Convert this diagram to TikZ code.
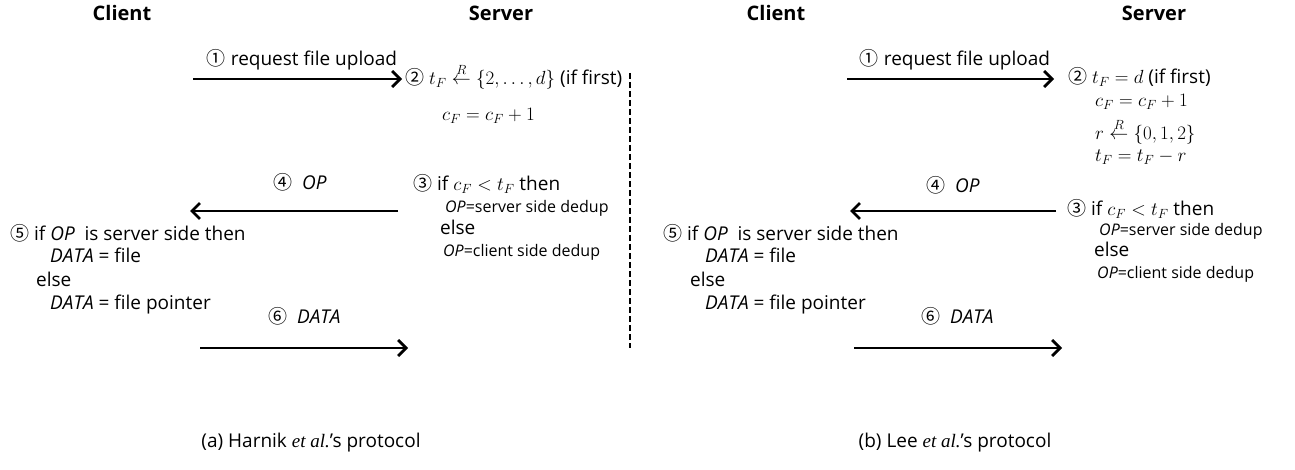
\RequirePackage{fix-cm}
\documentclass[tikz,border=0pt]{standalone}
\usepackage{amsmath}
\usepackage{fontspec}
\setmainfont{Open Sans}
\newfontfamily\circf{Noto Sans CJK KR}
\newfontfamily\serf{Liberation Serif}
\usetikzlibrary{arrows.meta}
\newcommand{\cnum}[1]{{\circf #1}}
\newcommand{\rarr}{\overset{R}{\leftarrow}}
\begin{document}
\begin{tikzpicture}[x=1pt,y=-1pt,
  title/.style={font=\fontsize{20}{24}\selectfont\bfseries, inner sep=0pt},
  txt/.style={font=\fontsize{19}{22}\selectfont, anchor=base west, inner sep=0pt},
  small/.style={font=\fontsize{16}{19}\selectfont, anchor=base west, inner sep=0pt},
  msg/.style={line width=2.8pt, -{Straight Barb[length=8pt,width=16pt]}},
  divider/.style={line width=1.8pt, dash pattern=on 6pt off 3pt},
]
\useasboundingbox (0,0) rectangle (1295,470);
% ---------------- left panel ----------------
\node[title] (cl1) at (122,13) {Client};
\node[title] (sv1) at (501,13) {Server};
\coordinate (a1s) at (193,79); \coordinate (a1e) at (402,79);
\draw[msg] (a1s) -- (a1e);
\node[txt, anchor=base] (l1a) at (302,66) {\cnum{①} request file upload};
\node[txt] (s2a) at (405,85) {\cnum{②} $t_F \rarr \{2,\dots,d\}$ (if first)};
\node[txt] (s2b) at (442,121) {$c_F = c_F + 1$};
\node[txt] (s3a) at (413,191) {\cnum{③} if $c_F < t_F$ then};
\node[small] (s3b) at (445,213) {\textit{OP}=server side dedup};
\node[txt] (s3c) at (440,235) {else};
\node[small] (s3d) at (443,257) {\textit{OP}=client side dedup};
\coordinate (a4s) at (398,211); \coordinate (a4e) at (190,211);
\draw[msg] (a4s) -- (a4e);
\node[txt] (l4a) at (273,190) {\cnum{④}\ \ \textit{OP}};
\node[txt] (s5a) at (10,241) {\cnum{⑤} if \textit{OP}\ \ is server side then};
\node[txt] (s5b) at (50,263) {\textit{DATA} = file};
\node[txt] (s5c) at (36,287) {else};
\node[txt] (s5d) at (50,309) {\textit{DATA} = file pointer};
\node[txt] (l6a) at (268,323) {\cnum{⑥}\ \ \textit{DATA}};
\coordinate (a6s) at (200,348); \coordinate (a6e) at (408,348);
\draw[msg] (a6s) -- (a6e);
\coordinate (d1t) at (630,73); \coordinate (d1b) at (630,348);
\draw[divider] (d1t) -- (d1b);
\node[txt, anchor=base] (capa) at (311,447) {(a) Harnik {\serf\itshape et al.}’s protocol};
% ---------------- right panel ----------------
\node[title] (cl2) at (776,13) {Client};
\node[title] (sv2) at (1154,13) {Server};
\coordinate (b1s) at (847,79); \coordinate (b1e) at (1054,79);
\draw[msg] (b1s) -- (b1e);
\node[txt, anchor=base] (l1b) at (955,66) {\cnum{①} request file upload};
\node[txt] (r2a) at (1068,84) {\cnum{②} $t_F = d$ (if first)};
\node[txt] (r2b) at (1095,107) {$c_F = c_F + 1$};
\node[txt] (r2c) at (1095,140) {$r \rarr \{0,1,2\}$};
\node[txt] (r2d) at (1095,162) {$t_F = t_F - r$};
\node[txt] (r3a) at (1067,216) {\cnum{③} if $c_F < t_F$ then};
\node[small] (r3b) at (1099,236) {\textit{OP}=server side dedup};
\node[txt] (r3c) at (1094,257) {else};
\node[small] (r3d) at (1097,279) {\textit{OP}=client side dedup};
\coordinate (b4s) at (1056,211); \coordinate (b4e) at (850,211);
\draw[msg] (b4s) -- (b4e);
\node[txt] (l4b) at (926,193) {\cnum{④}\ \ \textit{OP}};
\node[txt] (r5a) at (663,241) {\cnum{⑤} if \textit{OP}\ \ is server side then};
\node[txt] (r5b) at (705,263) {\textit{DATA} = file};
\node[txt] (r5c) at (690,287) {else};
\node[txt] (r5d) at (705,309) {\textit{DATA} = file pointer};
\node[txt] (l6b) at (921,323) {\cnum{⑥}\ \ \textit{DATA}};
\coordinate (b6s) at (854,348); \coordinate (b6e) at (1062,348);
\draw[msg] (b6s) -- (b6e);
\node[txt, anchor=base] (capb) at (955,447) {(b) Lee {\serf\itshape et al.}’s protocol};
\end{tikzpicture}
\end{document}
